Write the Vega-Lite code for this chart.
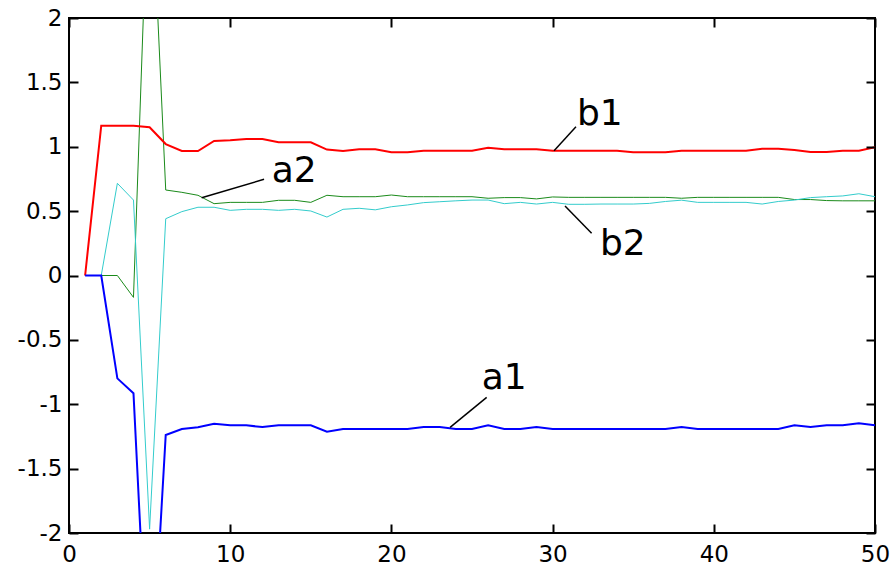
{
  "$schema": "https://vega.github.io/schema/vega-lite/v6.json",
  "width": 806,
  "height": 515,
  "autosize": {"type": "none"},
  "padding": {"left": 69, "top": 18, "right": 17, "bottom": 32},
  "background": "white",
  "config": {
    "view": {"stroke": "black", "strokeWidth": 2},
    "font": "DejaVu Sans",
    "axis": {
      "grid": false,
      "domain": false,
      "labelFlush": false,
      "labelFont": "DejaVu Sans",
      "labelFontSize": 23,
      "labelColor": "black",
      "title": null
    }
  },
  "datasets": {
    "series": [
      {"x": 1, "b1": 0, "a2": 0, "b2": 0, "a1": 0},
      {"x": 2, "b1": 1.163, "a2": 0, "b2": 0, "a1": 0},
      {"x": 3, "b1": 1.163, "a2": 0, "b2": 0.716, "a1": -0.799},
      {"x": 4, "b1": 1.163, "a2": -0.17, "b2": 0.586, "a1": -0.915},
      {"x": 5, "b1": 1.151, "a2": 3.4, "b2": -1.97, "a1": -3.42},
      {"x": 6, "b1": 1.021, "a2": 0.664, "b2": 0.441, "a1": -1.239},
      {"x": 7, "b1": 0.967, "a2": 0.646, "b2": 0.496, "a1": -1.192},
      {"x": 8, "b1": 0.967, "a2": 0.623, "b2": 0.53, "a1": -1.179},
      {"x": 9, "b1": 1.045, "a2": 0.558, "b2": 0.53, "a1": -1.151},
      {"x": 10, "b1": 1.05, "a2": 0.568, "b2": 0.506, "a1": -1.164},
      {"x": 11, "b1": 1.06, "a2": 0.568, "b2": 0.514, "a1": -1.164},
      {"x": 12, "b1": 1.06, "a2": 0.568, "b2": 0.514, "a1": -1.177},
      {"x": 13, "b1": 1.035, "a2": 0.584, "b2": 0.506, "a1": -1.164},
      {"x": 14, "b1": 1.035, "a2": 0.584, "b2": 0.514, "a1": -1.164},
      {"x": 15, "b1": 1.035, "a2": 0.568, "b2": 0.501, "a1": -1.164},
      {"x": 16, "b1": 0.978, "a2": 0.623, "b2": 0.454, "a1": -1.213},
      {"x": 17, "b1": 0.967, "a2": 0.612, "b2": 0.514, "a1": -1.192},
      {"x": 18, "b1": 0.98, "a2": 0.612, "b2": 0.522, "a1": -1.192},
      {"x": 19, "b1": 0.98, "a2": 0.612, "b2": 0.51, "a1": -1.192},
      {"x": 20, "b1": 0.957, "a2": 0.625, "b2": 0.534, "a1": -1.192},
      {"x": 21, "b1": 0.957, "a2": 0.612, "b2": 0.548, "a1": -1.192},
      {"x": 22, "b1": 0.969, "a2": 0.612, "b2": 0.566, "a1": -1.177},
      {"x": 23, "b1": 0.969, "a2": 0.612, "b2": 0.573, "a1": -1.177},
      {"x": 24, "b1": 0.969, "a2": 0.612, "b2": 0.58, "a1": -1.192},
      {"x": 25, "b1": 0.969, "a2": 0.612, "b2": 0.586, "a1": -1.192},
      {"x": 26, "b1": 0.993, "a2": 0.6, "b2": 0.586, "a1": -1.164},
      {"x": 27, "b1": 0.98, "a2": 0.605, "b2": 0.558, "a1": -1.192},
      {"x": 28, "b1": 0.98, "a2": 0.605, "b2": 0.568, "a1": -1.192},
      {"x": 29, "b1": 0.98, "a2": 0.595, "b2": 0.555, "a1": -1.177},
      {"x": 30, "b1": 0.969, "a2": 0.61, "b2": 0.568, "a1": -1.192},
      {"x": 31, "b1": 0.969, "a2": 0.607, "b2": 0.553, "a1": -1.192},
      {"x": 32, "b1": 0.969, "a2": 0.607, "b2": 0.553, "a1": -1.192},
      {"x": 33, "b1": 0.969, "a2": 0.607, "b2": 0.555, "a1": -1.192},
      {"x": 34, "b1": 0.969, "a2": 0.607, "b2": 0.555, "a1": -1.192},
      {"x": 35, "b1": 0.957, "a2": 0.607, "b2": 0.555, "a1": -1.192},
      {"x": 36, "b1": 0.957, "a2": 0.607, "b2": 0.56, "a1": -1.192},
      {"x": 37, "b1": 0.957, "a2": 0.607, "b2": 0.575, "a1": -1.192},
      {"x": 38, "b1": 0.969, "a2": 0.6, "b2": 0.585, "a1": -1.177},
      {"x": 39, "b1": 0.969, "a2": 0.607, "b2": 0.568, "a1": -1.192},
      {"x": 40, "b1": 0.969, "a2": 0.607, "b2": 0.568, "a1": -1.192},
      {"x": 41, "b1": 0.969, "a2": 0.607, "b2": 0.568, "a1": -1.192},
      {"x": 42, "b1": 0.969, "a2": 0.607, "b2": 0.568, "a1": -1.192},
      {"x": 43, "b1": 0.985, "a2": 0.607, "b2": 0.555, "a1": -1.192},
      {"x": 44, "b1": 0.985, "a2": 0.607, "b2": 0.575, "a1": -1.192},
      {"x": 45, "b1": 0.975, "a2": 0.59, "b2": 0.586, "a1": -1.164},
      {"x": 46, "b1": 0.959, "a2": 0.59, "b2": 0.605, "a1": -1.177},
      {"x": 47, "b1": 0.959, "a2": 0.582, "b2": 0.612, "a1": -1.164},
      {"x": 48, "b1": 0.969, "a2": 0.58, "b2": 0.618, "a1": -1.164},
      {"x": 49, "b1": 0.969, "a2": 0.58, "b2": 0.635, "a1": -1.148},
      {"x": 50, "b1": 0.996, "a2": 0.58, "b2": 0.612, "a1": -1.164}
    ],
    "notes": [
      {"label": "b1", "tx": 31.51, "ty": 1.169, "lx1": 30.09, "ly1": 0.969, "lx2": 31.45, "ly2": 1.156},
      {"label": "a2", "tx": 12.57, "ty": 0.729, "lx1": 8.23, "ly1": 0.604, "lx2": 12.1, "ly2": 0.747},
      {"label": "b2", "tx": 32.94, "ty": 0.159, "lx1": 30.77, "ly1": 0.54, "lx2": 32.42, "ly2": 0.328},
      {"label": "a1", "tx": 25.6, "ty": -0.884, "lx1": 23.64, "ly1": -1.179, "lx2": 25.91, "ly2": -0.946}
    ]
  },
  "layer": [
    {
      "data": {"name": "series"},
      "transform": [{"fold": ["a2", "b2", "b1", "a1"], "as": ["s", "v"]}],
      "mark": {"type": "line", "clip": true},
      "encoding": {
        "x": {"field": "x", "type": "quantitative",
              "scale": {"domain": [0, 50], "nice": false, "zero": false},
              "axis": {"orient": "bottom", "values": [0, 10, 20, 30, 40, 50], "offset": -9, "ticks": true, "tickSize": 9, "tickColor": "black", "tickWidth": 2, "zindex": 2, "labelPadding": 10, "labelExpr": "datum.value"}},
        "y": {"field": "v", "type": "quantitative",
              "scale": {"domain": [-2, 2], "nice": false, "zero": false},
              "axis": {"orient": "left", "values": [-2, -1.5, -1, -0.5, 0, 0.5, 1, 1.5, 2], "offset": -9, "ticks": true, "tickSize": 9, "tickColor": "black", "tickWidth": 2, "zindex": 2, "labelPadding": 7, "labelExpr": "datum.value"}},
        "color": {"field": "s", "type": "nominal",
                  "scale": {"domain": ["b1", "a2", "b2", "a1"], "range": ["#ff0000", "#1a8a1a", "#33cccc", "#0000ff"]},
                  "legend": null},
        "strokeWidth": {"field": "s", "type": "nominal",
                        "scale": {"type": "ordinal", "domain": ["b1", "a2", "b2", "a1"], "range": [2, 1, 1, 2]},
                        "legend": null},
        "detail": {"field": "s"}
      }
    },
    {
      "data": {"name": "notes"},
      "mark": {"type": "rule", "color": "black", "strokeWidth": 1.5},
      "encoding": {
        "x": {"field": "lx1", "type": "quantitative",
              "axis": {"orient": "top", "values": [0, 10, 20, 30, 40, 50], "labels": false, "offset": -9, "ticks": true, "tickSize": 9, "tickColor": "black", "tickWidth": 2, "zindex": 2}},
        "y": {"field": "ly1", "type": "quantitative",
              "axis": {"orient": "right", "values": [-2, -1.5, -1, -0.5, 0, 0.5, 1, 1.5, 2], "labels": false, "offset": -9, "ticks": true, "tickSize": 9, "tickColor": "black", "tickWidth": 2, "zindex": 2}},
        "x2": {"field": "lx2"},
        "y2": {"field": "ly2"}
      }
    },
    {
      "data": {"name": "notes"},
      "mark": {"type": "text", "align": "left", "baseline": "alphabetic", "fontSize": 36, "font": "DejaVu Sans", "color": "black"},
      "encoding": {
        "x": {"field": "tx", "type": "quantitative", "axis": null},
        "y": {"field": "ty", "type": "quantitative", "axis": null},
        "text": {"field": "label"}
      }
    }
  ]
}
